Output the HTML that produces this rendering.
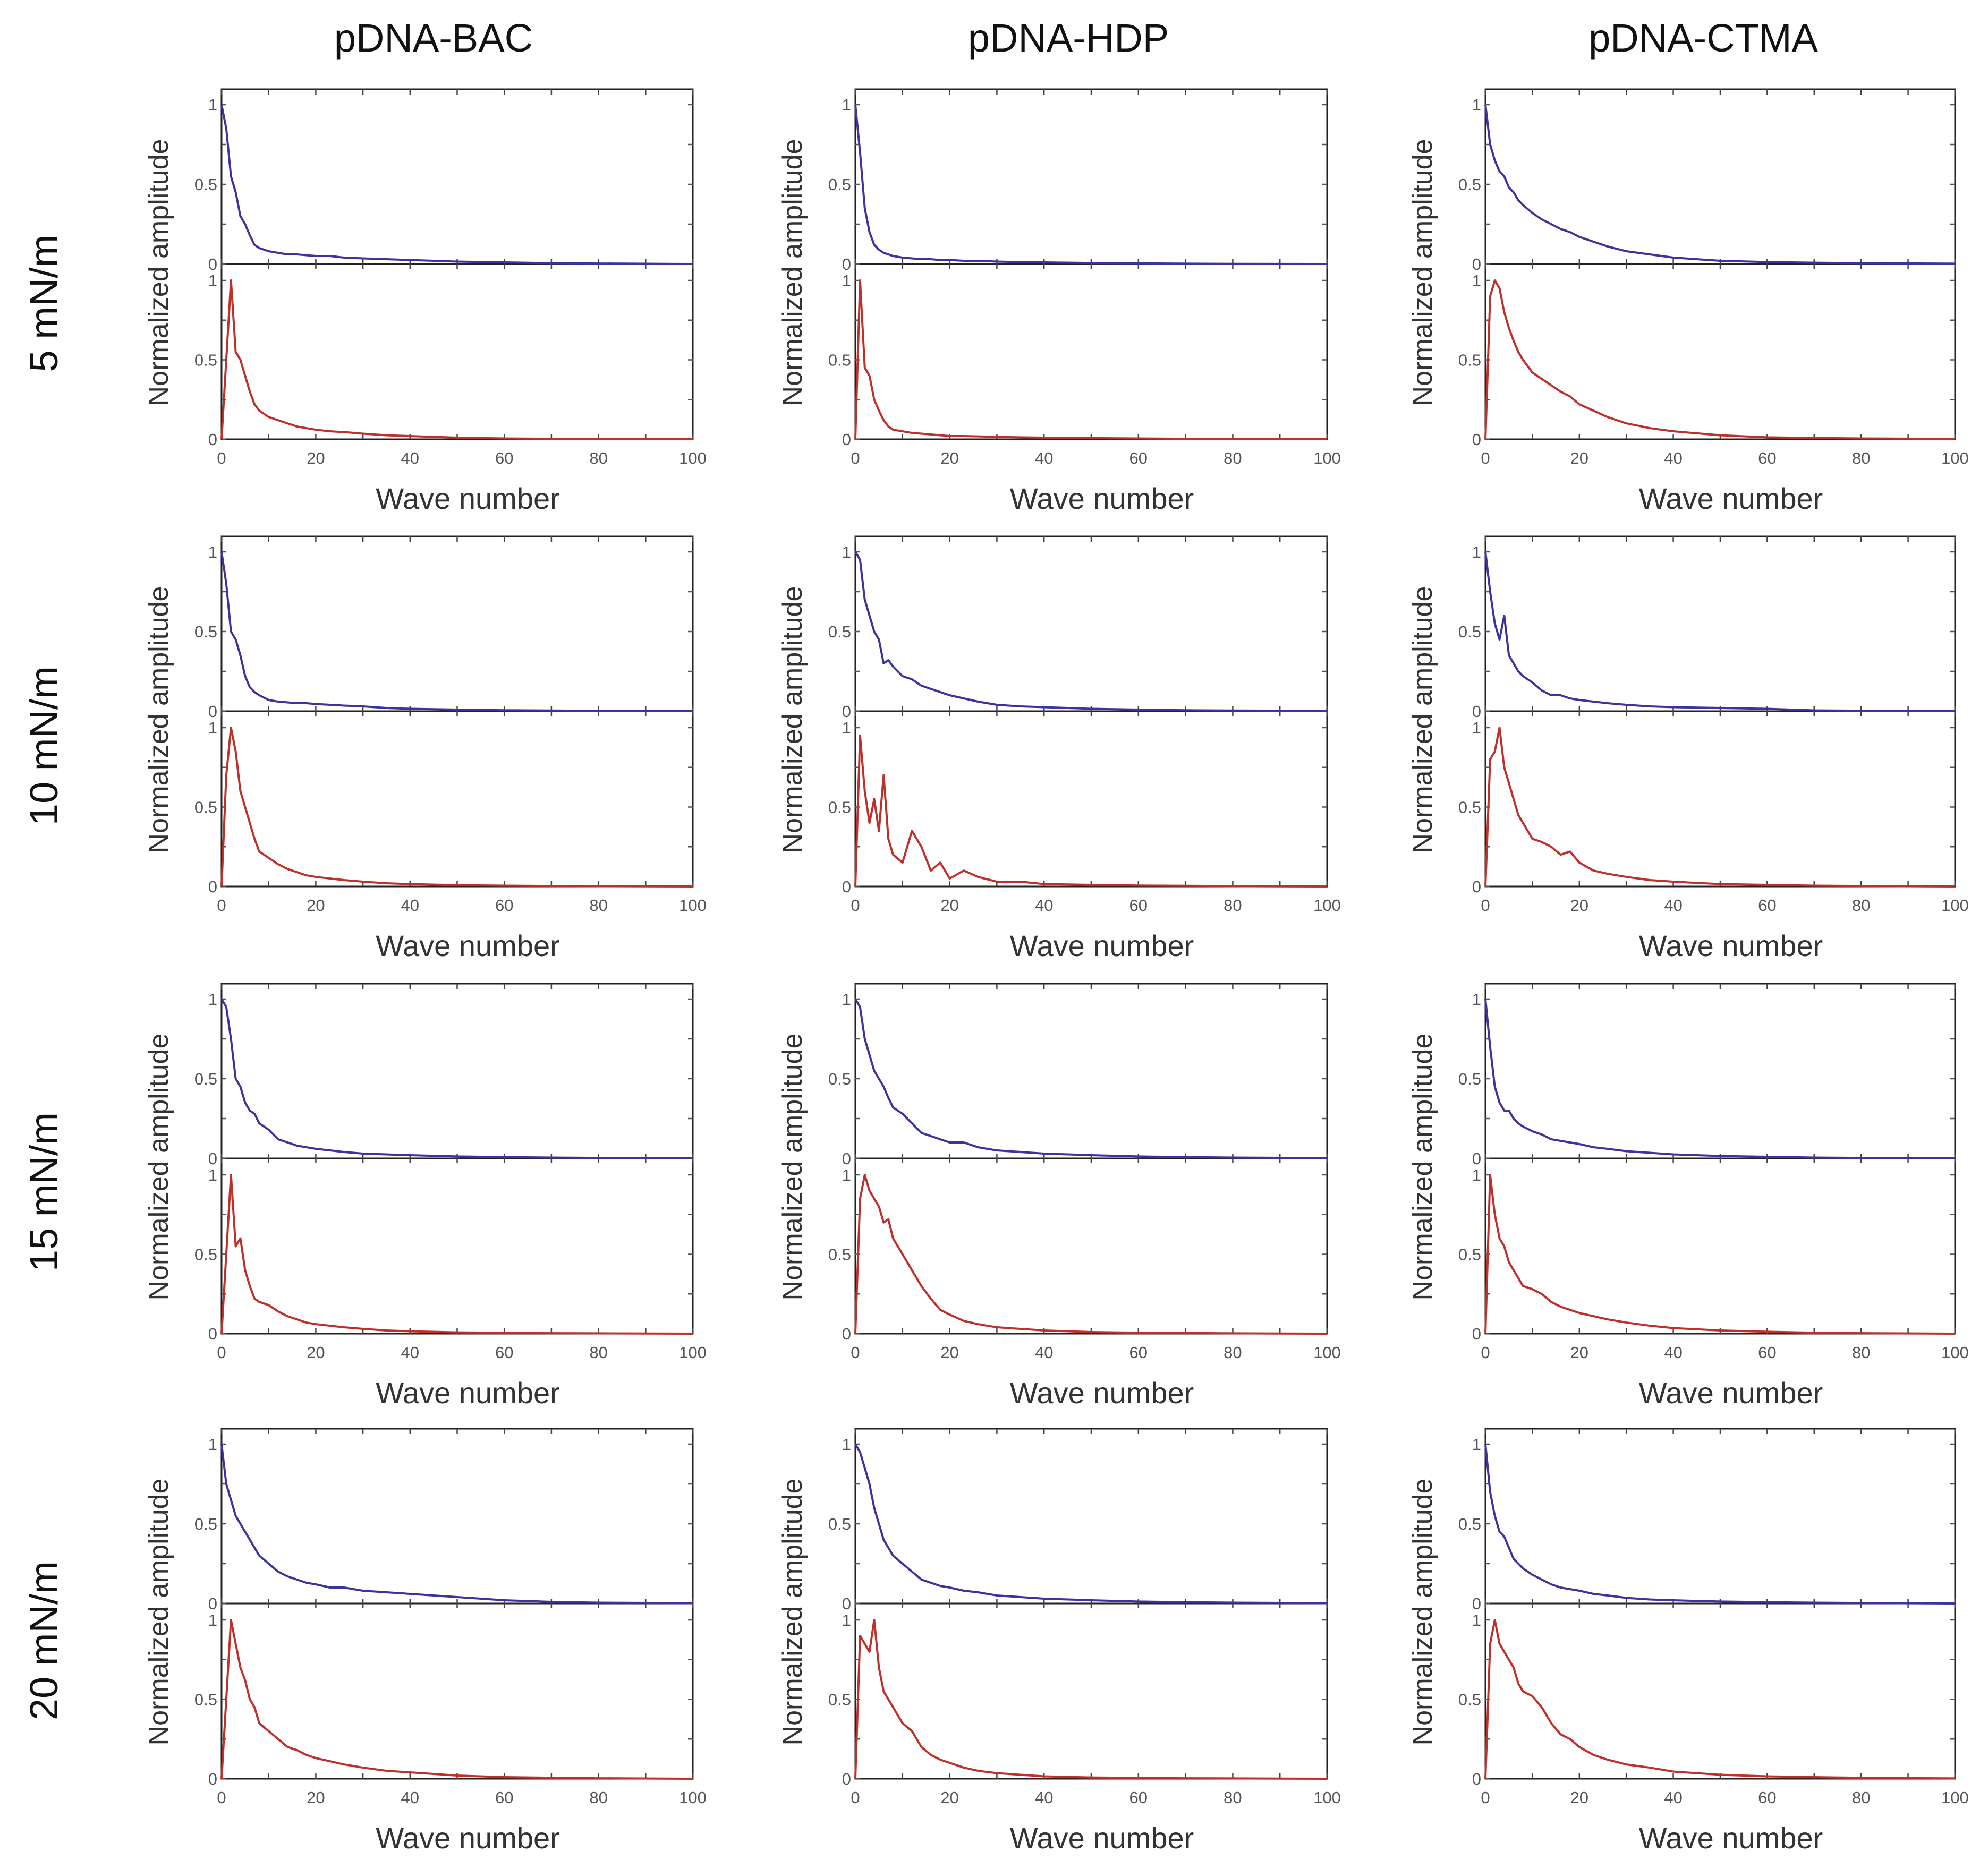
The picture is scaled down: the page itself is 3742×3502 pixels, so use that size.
<!DOCTYPE html>
<html><head><meta charset="utf-8"><style>
html,body{margin:0;padding:0;background:#fff}
svg{display:block}
</style></head><body>
<svg id="fig" width="3742" height="3502" viewBox="0 0 3742 3502" xmlns="http://www.w3.org/2000/svg" font-family="Liberation Sans, sans-serif">
<rect width="3742" height="3502" fill="#fff"/>
</svg>
<script>
const waveNumbers=[0,1,2,3,4,5,6,7,8,10,12,14,16,18,20,23,26,30,35,40,50,60,70,80,100];
const colTitles=["pDNA-BAC","pDNA-HDP","pDNA-CTMA"];
const rowTitles=["5 mN/m","10 mN/m","15 mN/m","20 mN/m"];
const xTicks=[0,20,40,60,80,100];
const yTicks=[0,0.5,1];
// row 1 (5 mN/m)
const r1BacBlue=[1,0.85,0.55,0.45,0.3,0.25,0.18,0.12,0.1,0.08,0.07,0.06,0.06,0.055,0.05,0.05,0.04,0.035,0.03,0.025,0.015,0.01,0.005,0.003,0];
const r1BacRed=[0,0.5,1,0.55,0.5,0.4,0.3,0.22,0.18,0.14,0.12,0.1,0.08,0.07,0.06,0.05,0.045,0.035,0.025,0.02,0.01,0.005,0.003,0.002,0];
const r1HdpBlue=[1,0.7,0.35,0.2,0.12,0.09,0.07,0.06,0.05,0.04,0.035,0.03,0.03,0.025,0.025,0.02,0.02,0.015,0.012,0.01,0.006,0.004,0.002,0.001,0];
const r1HdpRed=[0,1,0.45,0.4,0.25,0.18,0.12,0.08,0.06,0.05,0.04,0.035,0.03,0.025,0.02,0.02,0.018,0.015,0.012,0.01,0.007,0.005,0.003,0.002,0];
const r1CtmaBlue=[1,0.75,0.65,0.58,0.55,0.48,0.45,0.4,0.37,0.32,0.28,0.25,0.22,0.2,0.17,0.14,0.11,0.08,0.06,0.04,0.02,0.012,0.008,0.005,0.002];
const r1CtmaRed=[0,0.9,1,0.95,0.8,0.7,0.62,0.55,0.5,0.42,0.38,0.34,0.3,0.27,0.22,0.18,0.14,0.1,0.07,0.05,0.025,0.012,0.008,0.005,0.002];
// row 2 (10 mN/m)
const r2BacBlue=[1,0.8,0.5,0.45,0.35,0.22,0.15,0.12,0.1,0.07,0.06,0.055,0.05,0.05,0.045,0.04,0.035,0.03,0.02,0.015,0.01,0.006,0.004,0.002,0];
const r2BacRed=[0,0.7,1,0.85,0.6,0.5,0.4,0.3,0.22,0.18,0.14,0.11,0.09,0.07,0.06,0.05,0.04,0.03,0.02,0.015,0.008,0.005,0.003,0.002,0];
const r2HdpBlue=[1,0.95,0.7,0.6,0.5,0.45,0.3,0.32,0.28,0.22,0.2,0.16,0.14,0.12,0.1,0.08,0.06,0.04,0.03,0.025,0.015,0.01,0.006,0.004,0.002];
const r2HdpRed=[0,0.95,0.6,0.4,0.55,0.35,0.7,0.3,0.2,0.15,0.35,0.25,0.1,0.15,0.05,0.1,0.06,0.03,0.03,0.015,0.01,0.006,0.004,0.002,0];
const r2CtmaBlue=[1,0.75,0.55,0.45,0.6,0.35,0.3,0.25,0.22,0.18,0.13,0.1,0.1,0.08,0.07,0.06,0.05,0.04,0.03,0.025,0.02,0.015,0.005,0.003,0];
const r2CtmaRed=[0,0.8,0.85,1,0.75,0.65,0.55,0.45,0.4,0.3,0.28,0.25,0.2,0.22,0.15,0.1,0.08,0.06,0.04,0.03,0.015,0.01,0.005,0.003,0];
// row 3 (15 mN/m)
const r3BacBlue=[1,0.95,0.75,0.5,0.45,0.35,0.3,0.28,0.22,0.18,0.12,0.1,0.08,0.07,0.06,0.05,0.04,0.03,0.025,0.02,0.012,0.008,0.005,0.003,0];
const r3BacRed=[0,0.5,1,0.55,0.6,0.4,0.3,0.22,0.2,0.18,0.14,0.11,0.09,0.07,0.06,0.05,0.04,0.03,0.02,0.015,0.008,0.005,0.003,0.002,0];
const r3HdpBlue=[1,0.95,0.75,0.65,0.55,0.5,0.45,0.38,0.32,0.28,0.22,0.16,0.14,0.12,0.1,0.1,0.07,0.05,0.04,0.03,0.02,0.012,0.008,0.005,0.002];
const r3HdpRed=[0,0.85,1,0.9,0.85,0.8,0.7,0.72,0.6,0.5,0.4,0.3,0.22,0.15,0.12,0.08,0.06,0.04,0.03,0.02,0.01,0.006,0.004,0.002,0];
const r3CtmaBlue=[1,0.7,0.45,0.35,0.3,0.3,0.25,0.22,0.2,0.17,0.15,0.12,0.11,0.1,0.09,0.07,0.06,0.045,0.035,0.025,0.015,0.01,0.005,0.003,0];
const r3CtmaRed=[0,1,0.75,0.6,0.55,0.45,0.4,0.35,0.3,0.28,0.25,0.2,0.17,0.15,0.13,0.11,0.09,0.07,0.05,0.035,0.02,0.012,0.006,0.003,0];
// row 4 (20 mN/m)
const r4BacBlue=[1,0.75,0.65,0.55,0.5,0.45,0.4,0.35,0.3,0.25,0.2,0.17,0.15,0.13,0.12,0.1,0.1,0.08,0.07,0.06,0.04,0.02,0.01,0.005,0.002];
const r4BacRed=[0,0.5,1,0.85,0.7,0.62,0.5,0.45,0.35,0.3,0.25,0.2,0.18,0.15,0.13,0.11,0.09,0.07,0.05,0.04,0.02,0.01,0.006,0.003,0];
const r4HdpBlue=[1,0.95,0.85,0.75,0.6,0.5,0.4,0.35,0.3,0.25,0.2,0.15,0.13,0.11,0.1,0.08,0.07,0.05,0.04,0.03,0.02,0.012,0.008,0.005,0.002];
const r4HdpRed=[0,0.9,0.85,0.8,1,0.7,0.55,0.5,0.45,0.35,0.3,0.2,0.15,0.12,0.1,0.07,0.05,0.035,0.025,0.015,0.008,0.005,0.003,0.002,0];
const r4CtmaBlue=[1,0.7,0.55,0.45,0.42,0.35,0.28,0.25,0.22,0.18,0.15,0.12,0.1,0.09,0.08,0.06,0.05,0.035,0.025,0.02,0.012,0.008,0.005,0.003,0];
const r4CtmaRed=[0,0.85,1,0.85,0.8,0.75,0.7,0.6,0.55,0.52,0.45,0.35,0.28,0.25,0.2,0.15,0.12,0.09,0.07,0.045,0.025,0.015,0.01,0.006,0.002];

const panels=[
 [[r1BacBlue,r1BacRed],[r1HdpBlue,r1HdpRed],[r1CtmaBlue,r1CtmaRed]],
 [[r2BacBlue,r2BacRed],[r2HdpBlue,r2HdpRed],[r2CtmaBlue,r2CtmaRed]],
 [[r3BacBlue,r3BacRed],[r3HdpBlue,r3HdpRed],[r3CtmaBlue,r3CtmaRed]],
 [[r4BacBlue,r4BacRed],[r4HdpBlue,r4HdpRed],[r4CtmaBlue,r4CtmaRed]]
];

const NS="http://www.w3.org/2000/svg";
const svg=document.getElementById('fig');
function mk(tag,attrs,parent){const e=document.createElementNS(NS,tag);for(const k in attrs)e.setAttribute(k,attrs[k]);(parent||svg).appendChild(e);return e;}
const colL=[417,1610,2796], colR=[1304,2498,3680];
const rowT=[168,1010,1852,2690];
const colCx=[816,2011,3206];
const rowCy=[571,1404,2244,3089];

colTitles.forEach((t,i)=>{
  const e=mk('text',{x:colCx[i],y:97,'font-size':74,'text-anchor':'middle',fill:'#111'});
  e.textContent=t;
  
  
});
rowTitles.forEach((t,i)=>{
  const e=mk('text',{x:0,y:0,'font-size':74,'text-anchor':'middle',fill:'#111',transform:`translate(108,${rowCy[i]}) rotate(-90)`});
  e.textContent=t;
  
  
});

for(let r=0;r<4;r++){for(let c=0;c<3;c++){
  const L=colL[c],R=colR[c],T=rowT[r];
  const topY1=T+29, topY0=T+329, botY1=T+360, botY0=T+659;
  const g=mk('g',{});
  
  
  const xs=v=>L+(v/100)*(R-L);
  const yTop=v=>topY0-v*(topY0-topY1);
  const yBot=v=>botY0-v*(botY0-botY1);
  const fr=mk('rect',{x:L,y:T,width:R-L,height:botY0-T,fill:'none',stroke:'#222','stroke-width':3},g);
  
  
  const mid=mk('line',{x1:L,x2:R,y1:topY0,y2:topY0,stroke:'#222','stroke-width':3},g);
  
  
  for(let v=0;v<=100;v+=10){
    const x=xs(v);
    [[T,T+10],[topY0-9,topY0+9],[botY0-10,botY0]].forEach(p=>mk('line',{x1:x,x2:x,y1:p[0],y2:p[1],stroke:'#444','stroke-width':2.5},g));
  }
  xTicks.forEach(v=>{
    const e=mk('text',{x:xs(v),y:botY0+46,'font-size':31,'text-anchor':'middle',fill:'#555'},g);
    e.textContent=v;
    
    
  });
  [yTop,yBot].forEach(fy=>{
    for(let v=0;v<=1.001;v+=0.25){
      const y=fy(v);
      mk('line',{x1:L,x2:L+9,y1:y,y2:y,stroke:'#555','stroke-width':2.5},g);
      mk('line',{x1:R-9,x2:R,y1:y,y2:y,stroke:'#555','stroke-width':2.5},g);
    }
    yTicks.forEach(v=>{
      const e=mk('text',{x:L-8,y:fy(v)+11,'font-size':31,'text-anchor':'end',fill:'#555'},g);
      e.textContent=v;
      
      
    });
  });
  const [blue,red]=panels[r][c];
  const pb=mk('polyline',{points:waveNumbers.map((w,i)=>xs(w)+','+yTop(blue[i])).join(' '),fill:'none',stroke:'#3b349e','stroke-width':4,'stroke-linejoin':'round'},g);
  
  
  const pr=mk('polyline',{points:waveNumbers.map((w,i)=>xs(w)+','+yBot(red[i])).join(' '),fill:'none',stroke:'#c0302a','stroke-width':4,'stroke-linejoin':'round'},g);
  
  
  const yl=mk('text',{x:0,y:0,'font-size':52,'text-anchor':'middle',fill:'#333',transform:`translate(${L-101},${T+345}) rotate(-90)`},g);
  yl.textContent='Normalized amplitude';
  
  
  const xl=mk('text',{x:(L+R)/2+20,y:T+790,'font-size':56,'text-anchor':'middle',fill:'#333'},g);
  xl.textContent='Wave number';
  
  
}}
</script>
</body></html>
